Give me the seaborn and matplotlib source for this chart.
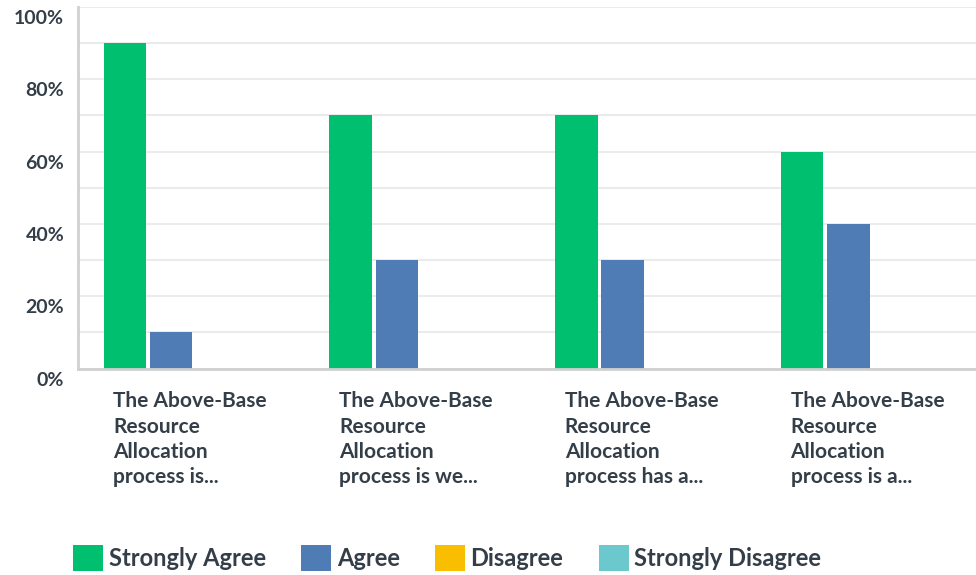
import numpy as np
import pandas as pd
import matplotlib
matplotlib.use("Agg")
import matplotlib.pyplot as plt
import matplotlib.transforms as mtransforms
import seaborn as sns

# Survey answers, percent of respondents
questions = [
    "The Above-Base\nResource\nAllocation\nprocess is...",
    "The Above-Base\nResource\nAllocation\nprocess is we...",
    "The Above-Base\nResource\nAllocation\nprocess has a...",
    "The Above-Base\nResource\nAllocation\nprocess is a...",
]
answers = ["Strongly Agree", "Agree", "Disagree", "Strongly Disagree"]
strongly_agree = [90, 70, 70, 60]
agree = [10, 30, 30, 40]
disagree = [0, 0, 0, 0]
strongly_disagree = [0, 0, 0, 0]

colors = ["#00BF6F", "#507CB6", "#F9BE00", "#6BC8CD"]
text_col = "#333E48"

rows = []
for vals, ans in zip([strongly_agree, agree, disagree, strongly_disagree], answers):
    for q, v in zip(questions, vals):
        rows.append({"question": q, "answer": ans, "pct": v})
df = pd.DataFrame(rows)

sns.set_style("white")
plt.rcParams["font.family"] = ["Lato", "DejaVu Sans"]

fig = plt.figure(figsize=(9.76, 5.75), dpi=100)
# plot area runs slightly past the right edge of the picture
ax = fig.add_axes([78 / 976, 1 - 368.5 / 575, 903 / 976, (368.5 - 7) / 575])

sns.barplot(data=df, x="question", y="pct", hue="answer", order=questions,
            hue_order=answers, palette=colors, width=0.82, gap=0.08,
            saturation=1, linewidth=0, ax=ax, legend=True)

ax.set_ylim(0, 100)
ax.set_xlim(-0.515, 3.485)
ax.set_yticks(np.arange(0, 101, 20))
ax.set_yticks(np.arange(0, 101, 10), minor=True)
ax.set_yticklabels([f"{v}%" for v in range(0, 101, 20)], fontsize=14,
                   color=text_col, fontweight="bold")
ax.yaxis.grid(True, which="both", color="#EBEBEB", linewidth=1.5)
ax.set_axisbelow(True)
ax.tick_params(axis="y", which="both", length=0, pad=10)
off = mtransforms.ScaledTranslation(0, -10 / 100, fig.dpi_scale_trans)
for lab in ax.get_yticklabels():
    lab.set_transform(lab.get_transform() + off)

ax.set_xticks(range(len(questions)))
ax.set_xticklabels(questions, fontsize=15, color=text_col, fontweight="bold",
                   ha="left", va="top", linespacing=1.32)
ax.tick_params(axis="x", length=0, pad=16.5)
xoff = mtransforms.ScaledTranslation(-81 / 100, 0, fig.dpi_scale_trans)
for lab in ax.get_xticklabels():
    lab.set_transform(lab.get_transform() + xoff)

ax.set_xlabel("")
ax.set_ylabel("")
for s in ["top", "right"]:
    ax.spines[s].set_visible(False)
ax.spines["left"].set_color("#D0D0D0")
ax.spines["left"].set_linewidth(2)
ax.spines["bottom"].set_color("#D0D0D0")
ax.spines["bottom"].set_linewidth(2)

handles, labels = ax.get_legend_handles_labels()
ax.get_legend().remove()
leg = fig.legend(handles, labels, loc="lower left", bbox_to_anchor=(52 / 976, -17 / 575),
                 ncol=4, frameon=False, handlelength=1.28, handleheight=1.28,
                 handletextpad=0.22, columnspacing=1.5,
                 prop={"size": 17, "weight": "bold"})
for t in leg.get_texts():
    t.set_color(text_col)

fig.savefig("out.png", dpi=100)
